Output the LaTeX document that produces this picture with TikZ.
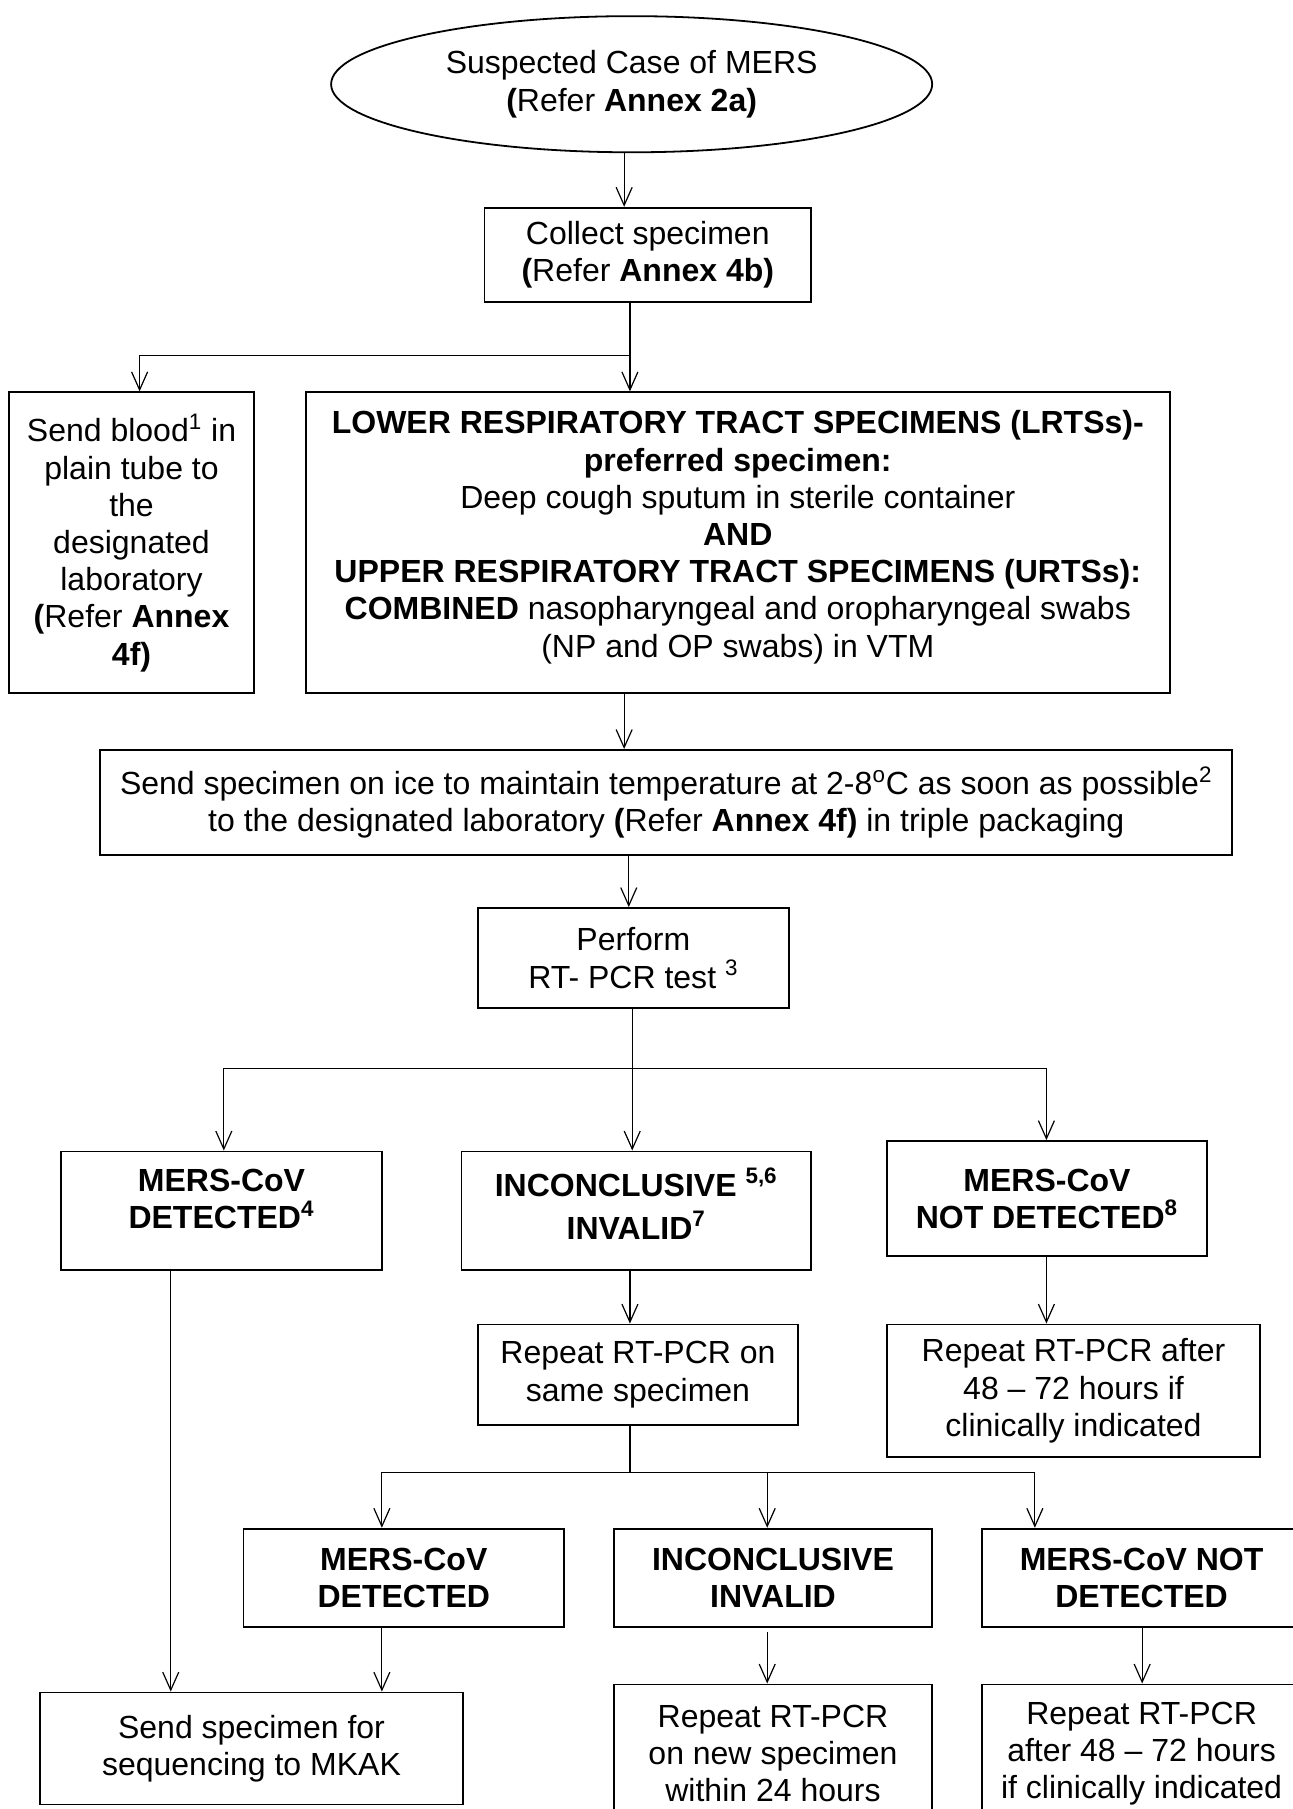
\documentclass[tikz,border=0pt]{standalone}
\usepackage{fontspec}
\setmainfont{Liberation Sans}
\usetikzlibrary{arrows.meta,shapes.geometric}
\newlength\pxu
\setlength\pxu{0.5768pt}
\begin{document}
\begin{tikzpicture}[x=0.5768pt,y=-0.5768pt,
  every node/.style={font=\fontsize{16}{18.6}\selectfont, align=center, inner sep=0pt},
  bx/.style 2 args={draw, line width=0.9pt, rectangle, minimum width=#1*\pxu, minimum height=#2*\pxu},
  arr/.style={draw, line width=0.6pt, -{Straight Barb[length=9pt,width=8pt]}},
  ln/.style={draw, line width=0.6pt}]
\useasboundingbox (0,0) rectangle (1120,1568);

% nodes
\node[ellipse, draw, line width=0.9pt, minimum width=521*\pxu, minimum height=118*\pxu] (ell) at (547.5,73)
  {Suspected Case of MERS\\\textbf{(}Refer \textbf{Annex 2a)}};
\node[bx={283}{82}] (coll) at (561.5,221) {Collect specimen\\\textbf{(}Refer \textbf{Annex 4b)}};
\node[bx={212}{261}] (blood) at (114,470.5)
  {Send blood\textsuperscript{1} in\\plain tube to\\the\\designated\\laboratory\\\textbf{(}Refer \textbf{Annex}\\\textbf{4f)}};
\node[bx={749}{261}, text depth=9pt] (lrts) at (639.5,470.5)
  {\textbf{LOWER RESPIRATORY TRACT SPECIMENS (LRTSs)-}\\\textbf{preferred specimen:}\\Deep cough sputum in sterile container\\\textbf{AND}\\\textbf{UPPER RESPIRATORY TRACT SPECIMENS (URTSs):}\\\textbf{COMBINED} nasopharyngeal and oropharyngeal swabs\\(NP and OP swabs) in VTM};
\node[bx={981}{91}] (send) at (577.5,695.5)
  {Send specimen on ice to maintain temperature at 2-8\textsuperscript{o}C as soon as possible\textsuperscript{2}\\to the designated laboratory \textbf{(}Refer \textbf{Annex 4f)} in triple packaging};
\node[bx={270}{87}] (perf) at (549,830.5) {Perform\\RT- PCR test \textsuperscript{3}};
\node[bx={278}{103}, text depth=12pt] (d4) at (192,1049.5) {\textbf{MERS-CoV}\\\textbf{DETECTED\textsuperscript{4}}};
\node[bx={303}{103}, text depth=7pt] (inc) at (551.5,1049.5) {\textbf{INCONCLUSIVE \textsuperscript{5,6}}\\[3pt]\textbf{INVALID\textsuperscript{7}}};
\node[bx={277}{100}] (nd8) at (907.5,1039) {\textbf{MERS-CoV}\\\textbf{NOT DETECTED\textsuperscript{8}}};
\node[bx={278}{87}] (rsame) at (553,1191.5) {Repeat RT-PCR on\\same specimen};
\node[bx={323}{115}] (rafter) at (930.5,1205.5) {Repeat RT-PCR after\\48 -- 72 hours if\\clinically indicated};
\node[bx={278}{85}] (mdet) at (350,1367.5) {\textbf{MERS-CoV}\\\textbf{DETECTED}};
\node[bx={276}{85}] (minc) at (670,1367.5) {\textbf{INCONCLUSIVE}\\\textbf{INVALID}};
\node[bx={277}{85}] (mnd) at (989.5,1367.5) {\textbf{MERS-CoV NOT}\\\textbf{DETECTED}};
\node[bx={366}{97}] (seq) at (218,1515.5) {Send specimen for\\sequencing to MKAK};
\node[bx={276}{120}] (rnew) at (670,1520) {Repeat RT-PCR\\on new specimen\\within 24 hours};
\node[bx={277}{120}] (rafter2) at (989.5,1520) {Repeat RT-PCR\\after 48 -- 72 hours\\if clinically indicated};

% guides
\coordinate (g1) at (541,0);
\coordinate (j1) at (546,308);
\coordinate (g2) at (121,0);
\coordinate (g3) at (541,0);
\coordinate (g4) at (545,0);
\coordinate (j2) at (548,926);
\coordinate (g5) at (194,0);
\coordinate (g6) at (907,0);
\coordinate (g7) at (148,0);
\coordinate (j3) at (546,1276);
\coordinate (g8) at (331,0);
\coordinate (g9) at (665,0);
\coordinate (g10) at (897,0);
\coordinate (g11) at (990,0);

% connectors
\draw[arr] (ell.south -| g1) -- (coll.north -| g1);
\draw[ln] (coll.south -| j1) -- (j1);
\draw[arr] (j1) -- (lrts.north -| j1);
\draw[arr] (j1) -| (blood.north -| g2);
\draw[arr] (lrts.south -| g3) -- (send.north -| g3);
\draw[arr] (send.south -| g4) -- (perf.north -| g4);
\draw[ln] (perf.south -| j2) -- (j2);
\draw[arr] (j2) -- (inc.north -| j2);
\draw[arr] (j2) -| (d4.north -| g5);
\draw[arr] (j2) -| (nd8.north -| g6);
\draw[arr] (d4.south -| g7) -- (seq.north -| g7);
\draw[arr] (inc.south -| j3) -- (rsame.north -| j3);
\draw[arr] (nd8.south -| g6) -- (rafter.north -| g6);
\draw[ln] (rsame.south -| j3) -- (j3);
\draw[arr] (j3) -| (mdet.north -| g8);
\draw[arr] (j3) -| (minc.north -| g9);
\draw[arr] (j3) -| (mnd.north -| g10);
\draw[arr] (mdet.south -| g8) -- (seq.north -| g8);
\draw[arr] ([yshift=-4*\pxu]minc.south -| g9) -- (rnew.north -| g9);
\draw[arr] (mnd.south -| g11) -- (rafter2.north -| g11);
\end{tikzpicture}
\end{document}
